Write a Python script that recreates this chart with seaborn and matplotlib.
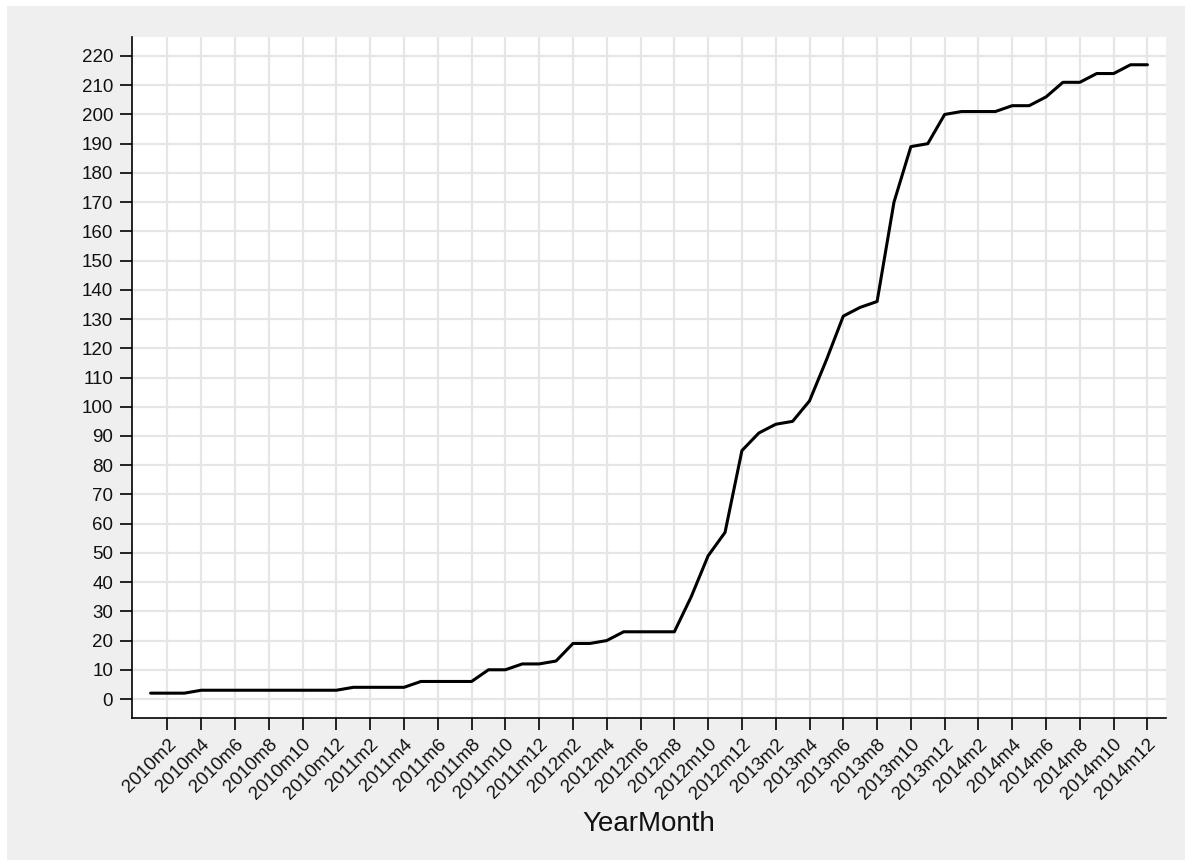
import matplotlib
matplotlib.use("Agg")
import matplotlib.pyplot as plt
import seaborn as sns
import numpy as np
import pandas as pd
from matplotlib.patches import Rectangle

years = [2010, 2011, 2012, 2013, 2014]
values_2010 = [2, 2, 2, 3, 3, 3, 3, 3, 3, 3, 3, 3]
values_2011 = [4, 4, 4, 4, 6, 6, 6, 6, 10, 10, 12, 12]
values_2012 = [13, 19, 19, 20, 23, 23, 23, 23, 35, 49, 57, 85]
values_2013 = [91, 94, 95, 102, 116, 131, 134, 136, 170, 189, 190, 200]
values_2014 = [201, 201, 201, 203, 203, 206, 211, 211, 214, 214, 217, 217]

values = values_2010 + values_2011 + values_2012 + values_2013 + values_2014
labels = [f"{y}m{m}" for y in years for m in range(1, 13)]
df = pd.DataFrame({"idx": np.arange(len(values)), "count": values, "ym": labels})

sns.set_theme(style="white")
plt.rcParams['font.family'] = ['Liberation Sans', 'DejaVu Sans']

fig = plt.figure(figsize=(11.92, 8.66), dpi=100, facecolor="white")
fig.patches.append(Rectangle((7/1192, 6/866), (1185-7)/1192, (860-6)/866,
                             transform=fig.transFigure, facecolor="#efefef",
                             edgecolor="none", zorder=-10))
ax = fig.add_axes([132/1192, 1-718/866, 1034/1192, 681/866])
ax.set_facecolor("white")

sns.lineplot(data=df, x="idx", y="count", ax=ax, color="black", linewidth=2.2)

tick_idx = list(range(1, len(values), 2))
ax.set_xticks(tick_idx)
ax.set_xticklabels([labels[i] for i in tick_idx], rotation=45, ha="right",
                   rotation_mode="anchor", fontsize=13.5)
ax.set_yticks(np.arange(0, 221, 10))
ax.tick_params(axis="both", bottom=True, left=True, top=False, right=False,
               direction="out", length=8.6, width=1.2, color="black",
               labelcolor="#111111", labelsize=13.5)
ax.tick_params(axis="y", pad=5)
ax.tick_params(axis="x", pad=4)
ax.set_xlim(-1.1, 60.1)
ax.set_ylim(-6.5, 226.5)
ax.grid(True, color="#e6e6e6", linewidth=1.6)
ax.set_axisbelow(True)
for s in ["top", "right"]:
    ax.spines[s].set_visible(False)
for s in ["left", "bottom"]:
    ax.spines[s].set_color("black")
    ax.spines[s].set_linewidth(1.2)
ax.set_xlabel("YearMonth", fontsize=20, labelpad=6, color="#111111")
ax.set_ylabel("")

fig.savefig("out.png", dpi=100, facecolor=fig.get_facecolor())
